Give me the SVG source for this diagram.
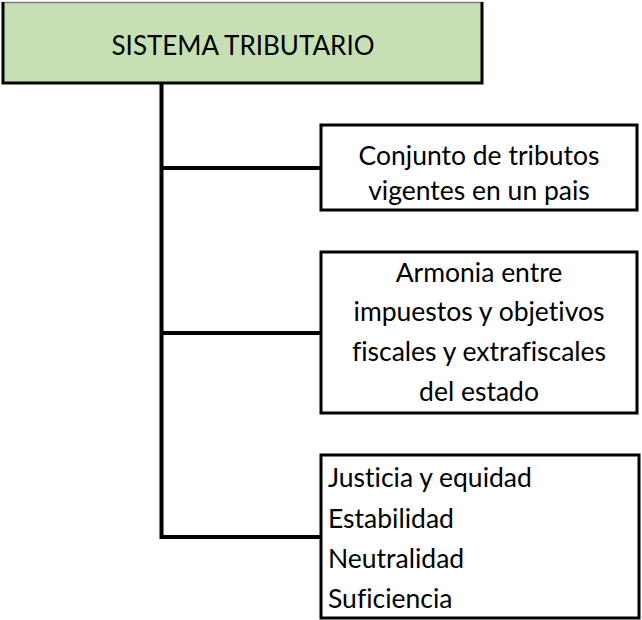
<svg xmlns="http://www.w3.org/2000/svg" width="642" height="620" viewBox="0 0 642 620">
<style>
.box{fill:#fff;stroke:#000;stroke-width:3}
.t{font-family:Lato,"Liberation Sans",sans-serif;font-size:26.5px;fill:#000;font-variant-ligatures:none;font-feature-settings:"liga" 0,"clig" 0}
.c{text-anchor:middle}
.conn{stroke:#000;stroke-width:4;fill:none}
</style>
<rect width="642" height="620" fill="#fff"/>
<g id="connectors">
<line class="conn" x1="161.5" y1="84" x2="161.5" y2="539"/>
<line class="conn" x1="160" y1="168" x2="321" y2="168"/>
<line class="conn" x1="160" y1="333" x2="321" y2="333"/>
<line class="conn" x1="160" y1="537" x2="321" y2="537"/>
</g>
<g id="root">
<rect x="3" y="2" width="479" height="81" fill="#c6e0b4"/>
<line x1="3" y1="2.5" x2="482" y2="2.5" stroke="#808080" stroke-width="1.5"/>
<path d="M3,2 V83 H482 V2" fill="none" stroke="#000" stroke-width="3"/>
<text class="t c" x="243" y="55" style="font-size:26px">SISTEMA TRIBUTARIO</text>
</g>
<g id="n1">
<rect class="box" x="321" y="125" width="316" height="85"/>
<text class="t c" x="479" y="165">Conjunto de tributos</text>
<text class="t c" x="479" y="200">vigentes en un pais</text>
</g>
<g id="n2">
<rect class="box" x="321" y="252" width="316" height="161"/>
<text class="t c" x="479" y="282">Armonia entre</text>
<text class="t c" x="479" y="321">impuestos y objetivos</text>
<text class="t c" x="479" y="361">fiscales y extrafiscales</text>
<text class="t c" x="479" y="401">del estado</text>
</g>
<g id="n3">
<rect class="box" x="321" y="455" width="318" height="163"/>
<text class="t" x="328" y="487">Justicia y equidad</text>
<text class="t" x="328" y="528">Estabilidad</text>
<text class="t" x="328" y="568">Neutralidad</text>
<text class="t" x="328" y="608">Suficiencia</text>
</g>
</svg>
